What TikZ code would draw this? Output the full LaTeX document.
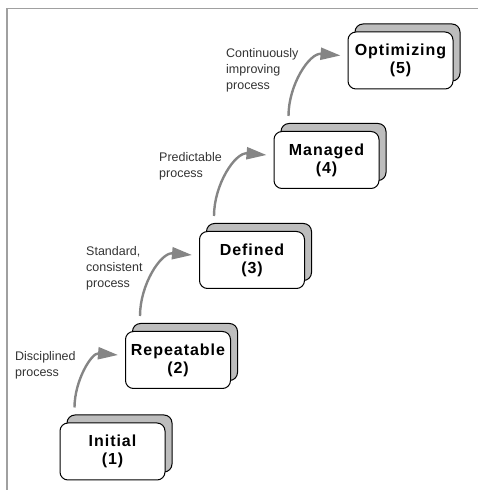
\documentclass[tikz,border=0pt]{standalone}
\usepackage{fontspec}
\setmainfont{Liberation Sans}
\newfontfamily\levelfont{Liberation Sans}[LetterSpace=6]
\usetikzlibrary{calc,arrows.meta,shadows}
\definecolor{stackgray}{HTML}{BDBDBD}
\definecolor{arrowgray}{HTML}{858585}
\definecolor{framegray}{HTML}{A0A0A0}
\definecolor{labelgray}{HTML}{333333}

\begin{document}
\begin{tikzpicture}[x=1pt,y=1pt,
    level/.style={draw=black, fill=white, line width=1pt, rounded corners=8pt,
      minimum width=105pt, minimum height=57pt, align=center,
      font=\levelfont\bfseries\fontsize{16}{18}\selectfont,
      copy shadow={fill=stackgray, draw=black, shadow xshift=7pt, shadow yshift=8pt}},
    climb/.style={arrowgray, line width=2.4pt, -{Triangle[length=20pt,width=12pt]}},
    note/.style={anchor=west, align=left, inner sep=0pt, text=labelgray,
      font=\fontsize{12.5}{16}\selectfont}]
  \useasboundingbox (0,0) rectangle (478,490);
  \draw[framegray, line width=1.5pt] (7,0) -- (7,481.5) -- (478,481.5);

  \foreach \lvl/\name/\x/\y in {1/Initial/112.5/38.5, 2/Repeatable/178/130,
      3/Defined/252/230, 4/Managed/326.5/330, 5/Optimizing/400.5/429.5} {
    \node[level] (L\lvl) at (\x,\y) {\name\\(\lvl)};
  }
  \foreach \a/\b in {1/2,2/3,3/4,4/5} {
    \draw[climb] ($(L\a.north west)+(15,15)$) to[out=90,in=175] ($(L\b.west)+(-7,5)$);
  }

  \node[note] (n1) at (15,125) {Disciplined\\process};
  \node[note] (n2) at (86,222) {Standard,\\consistent\\process};
  \node[note] (n3) at (159,324) {Predictable\\process};
  \node[note] (n4) at (226,420) {Continuously\\improving\\process};
\end{tikzpicture}
\end{document}
